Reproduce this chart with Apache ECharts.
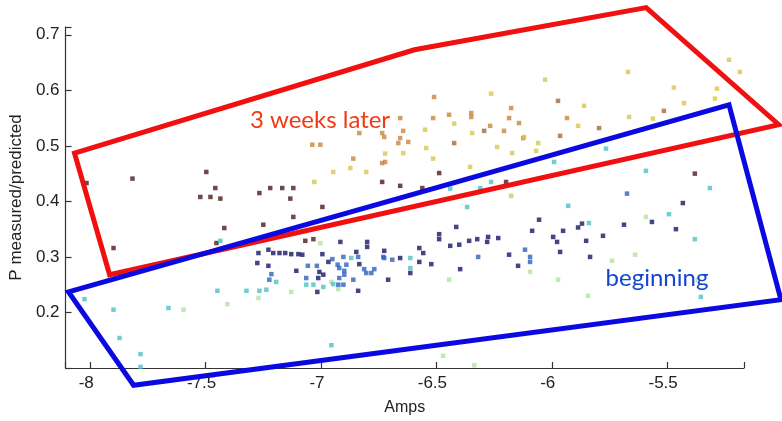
<!DOCTYPE html>
<html>
<head>
<meta charset="utf-8">
<script src="https://cdn.jsdelivr.net/npm/echarts@6/dist/echarts.min.js"></script>
<style>html,body{margin:0;padding:0;background:#fff}#c{width:782px;height:421px}</style>
</head>
<body>
<div id="c"></div>
<script>
// Tick values
const xTicks = [-8, -7.5, -7, -6.5, -6, -5.5];
const yTicks = [0.2, 0.3, 0.4, 0.5, 0.6, 0.7];

// Scatter points [Amps, P measured/predicted], grouped by colour
const maroonPts = [[-8.016,0.433],[-7.817,0.441],[-7.497,0.453],[-7.523,0.408],[-7.479,0.408],[-7.458,0.424],[-7.436,0.405],[-7.267,0.415],[-7.220,0.424],[-7.168,0.424],[-7.120,0.424],[-7.133,0.405],[-6.994,0.390],[-7.120,0.372],[-7.250,0.358],[-7.419,0.352],[-7.453,0.325],[-7.899,0.316],[-6.735,0.435],[-6.657,0.428],[-6.488,0.451],[-6.561,0.424],[-6.198,0.435],[-5.380,0.450],[-7.068,0.329],[-7.033,0.332]];
const brownPts = [[-6.293,0.527],[-6.423,0.505],[-5.973,0.581],[-5.964,0.518],[-5.795,0.532],[-5.514,0.563]];
const orangePts = [[-6.510,0.588],[-6.349,0.559],[-6.349,0.552],[-6.445,0.556],[-6.514,0.550],[-6.176,0.568],[-6.185,0.550],[-6.142,0.541],[-6.267,0.536],[-6.207,0.527],[-6.834,0.523],[-6.735,0.523],[-6.726,0.516],[-6.644,0.527],[-6.657,0.514],[-6.622,0.507],[-6.665,0.505],[-7.038,0.502],[-7.003,0.502],[-6.860,0.477],[-6.735,0.469],[-6.722,0.471],[-5.934,0.550],[-6.124,0.514],[-6.657,0.550]];
const yellowPts = [[-6.263,0.594],[-6.029,0.619],[-5.670,0.633],[-5.232,0.655],[-5.185,0.633],[-5.471,0.605],[-5.284,0.603],[-5.293,0.585],[-5.427,0.577],[-5.860,0.572],[-5.665,0.552],[-5.886,0.536],[-5.562,0.549],[-6.120,0.516],[-6.059,0.505],[-6.423,0.540],[-6.549,0.529],[-6.345,0.523],[-6.237,0.498],[-6.544,0.496],[-6.644,0.487],[-6.172,0.487],[-6.722,0.486],[-6.514,0.477],[-6.873,0.460],[-6.947,0.453],[-6.804,0.453],[-6.354,0.462],[-7.029,0.435],[-6.176,0.410],[-6.068,0.491]];
const greenPts = [[-7.003,0.325],[-6.445,0.259],[-6.955,0.255],[-6.925,0.242],[-7.129,0.237],[-7.271,0.226],[-7.406,0.215],[-7.596,0.205],[-6.471,0.122],[-6.336,0.105],[-5.592,0.372],[-5.739,0.293],[-5.639,0.304],[-6.094,0.273],[-5.973,0.259],[-5.843,0.230],[-5.367,0.259]];
const cyanPts = [[-6.440,0.423],[-6.310,0.424],[-6.263,0.435],[-6.367,0.390],[-5.765,0.495],[-5.990,0.471],[-5.592,0.455],[-5.315,0.424],[-5.929,0.392],[-5.839,0.361],[-5.492,0.377],[-5.380,0.332],[-5.354,0.228],[-5.146,0.237],[-7.436,0.329],[-6.869,0.298],[-6.613,0.298],[-6.613,0.280],[-6.947,0.251],[-7.194,0.255],[-7.064,0.250],[-7.033,0.250],[-6.990,0.246],[-7.237,0.241],[-7.449,0.239],[-7.323,0.239],[-7.267,0.239],[-8.025,0.224],[-7.899,0.205],[-7.661,0.208],[-7.873,0.154],[-7.782,0.125],[-7.782,0.102],[-6.955,0.141]];
const bluePts = [[-5.674,0.414],[-6.116,0.313],[-6.094,0.300],[-6.094,0.291],[-6.319,0.300],[-6.903,0.300],[-6.899,0.275],[-6.899,0.268],[-6.928,0.286],[-6.921,0.280],[-6.890,0.286],[-6.951,0.296],[-6.839,0.300],[-6.730,0.300],[-6.726,0.298],[-6.691,0.295],[-6.813,0.278],[-6.769,0.278],[-6.804,0.271],[-6.782,0.271],[-6.921,0.262],[-6.860,0.259],[-6.925,0.250],[-6.903,0.250],[-7.057,0.284],[-7.018,0.284],[-7.215,0.269],[-7.224,0.259],[-7.064,0.262]];
const navyPts = [[-7.271,0.307],[-7.228,0.313],[-7.207,0.307],[-7.180,0.307],[-7.155,0.307],[-7.129,0.305],[-7.098,0.305],[-7.081,0.304],[-7.276,0.289],[-7.228,0.284],[-7.107,0.275],[-6.994,0.305],[-6.968,0.291],[-7.007,0.273],[-6.990,0.268],[-7.016,0.237],[-6.916,0.327],[-6.800,0.327],[-6.800,0.318],[-6.847,0.309],[-6.726,0.311],[-6.657,0.298],[-6.574,0.316],[-6.557,0.307],[-6.574,0.291],[-6.522,0.287],[-6.613,0.271],[-6.488,0.341],[-6.488,0.332],[-6.414,0.354],[-6.440,0.320],[-6.401,0.322],[-6.358,0.329],[-6.323,0.332],[-6.276,0.336],[-6.280,0.327],[-6.232,0.334],[-6.397,0.278],[-6.185,0.304],[-6.146,0.284],[-6.709,0.259],[-6.839,0.239],[-6.834,0.287],[-7.012,0.262],[-6.055,0.367],[-6.085,0.347],[-5.994,0.336],[-5.977,0.327],[-5.951,0.347],[-5.886,0.353],[-5.869,0.360],[-5.851,0.329],[-5.778,0.338],[-5.687,0.358],[-5.566,0.363],[-5.462,0.350],[-5.964,0.309],[-5.834,0.300],[-5.432,0.397]];

// Annotation outlines (data coordinates)
const redBox = [[-8.068,0.487],[-6.595,0.673],[-5.591,0.749],[-5.016,0.538],[-7.916,0.268]];
const blueBox = [[-8.094,0.237],[-5.232,0.574],[-5.007,0.223],[-7.812,0.069]];

const groups = [
  [maroonPts, '#4e1a1a'], [brownPts, '#a06a3c'], [orangePts, '#c8843c'],
  [yellowPts, '#d6c84c'], [greenPts, '#b2e2a4'], [cyanPts, '#4cc2c4'],
  [bluePts, '#2c62bf'], [navyPts, '#161668']
];

const series = groups.map(([d, c]) => ({
  type: 'scatter', data: d, symbol: 'rect', symbolSize: 4.5,
  itemStyle: { color: c }, silent: true, z: 2
}));

function onTick(list, v) {
  return list.some(t => Math.abs(t - v) < 1e-6);
}

const chart = echarts.init(document.getElementById('c'), null, { renderer: 'canvas' });
chart.setOption({
  animation: false,
  backgroundColor: '#ffffff',
  grid: { left: 64, right: 38, top: 27, bottom: 53 },
  xAxis: {
    type: 'value', min: -8.107, max: -5.167, splitNumber: 6,
    name: 'Amps', nameLocation: 'middle', nameGap: 32,
    nameTextStyle: { fontFamily: 'Liberation Sans', fontSize: 16, color: '#222' },
    axisLine: { lineStyle: { color: '#333', width: 1.2 } },
    axisTick: { show: true, inside: true, length: 6, lineStyle: { color: '#333', width: 1.2 } },
    axisLabel: { margin: 7, padding: [0, 8, 0, 0], fontFamily: 'Liberation Sans', fontSize: 17, color: '#222',
      formatter: v => onTick(xTicks, v) ? String(v) : '' },
    splitLine: { show: false }
  },
  yAxis: {
    type: 'value', min: 0.1, max: 0.714, splitNumber: 6,
    name: 'P measured/predicted', nameLocation: 'middle', nameGap: 40, nameRotate: 90,
    nameTextStyle: { fontFamily: 'Liberation Sans', fontSize: 17, color: '#222' },
    axisLine: { show: true, lineStyle: { color: '#333', width: 1.2 } },
    axisTick: { show: true, inside: true, length: 6, lineStyle: { color: '#333', width: 1.2 } },
    axisLabel: { margin: 6, fontFamily: 'Liberation Sans', fontSize: 17, color: '#222',
      formatter: v => onTick(yTicks, v) ? v.toFixed(1) : '' },
    splitLine: { show: false }
  },
  series: series
});

const toPx = pts => pts.map(p => chart.convertToPixel({ gridIndex: 0 }, p));
chart.setOption({
  graphic: [
    { type: 'polygon', z: 50, silent: true, shape: { points: toPx(redBox) },
      style: { fill: null, stroke: '#f01010', lineWidth: 5, lineJoin: 'miter' } },
    { type: 'polygon', z: 51, silent: true, shape: { points: toPx(blueBox) },
      style: { fill: null, stroke: '#0a0ae0', lineWidth: 5, lineJoin: 'miter' } },
    { type: 'text', x: 320, y: 120, z: 100, style: { text: '3 weeks later', fill: '#f03a14', font: '24px Lato', textAlign: 'center', textVerticalAlign: 'middle' } },
    { type: 'text', x: 657, y: 278, z: 100, style: { text: 'beginning', fill: '#1446d2', font: '24px Lato', textAlign: 'center', textVerticalAlign: 'middle' } }
  ]
});
</script>
</body>
</html>
